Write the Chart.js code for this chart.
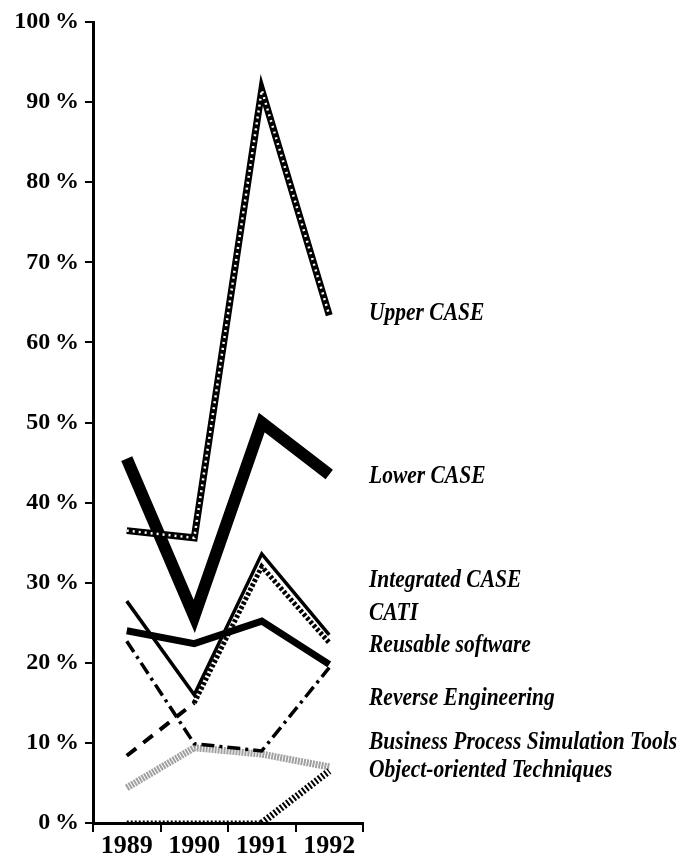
<!DOCTYPE html>
<html>
<head>
<meta charset="utf-8">
<script src="https://cdn.jsdelivr.net/npm/chart.js@4/dist/chart.umd.min.js"></script>
<style>
  html, body { margin: 0; padding: 0; background: #fff; }
  #wrap { width: 696px; height: 863px; }
</style>
</head>
<body>
<div id="wrap"><canvas id="line-chart" width="696" height="863"></canvas></div>
<script>
// years on the x axis
const years = ["1989", "1990", "1991", "1992"];

// survey shares, percent
const upperCase = [36.5, 35.6, 91.5, 63.4];
const lowerCase = [45.5, 25.8, 50.0, 43.5];
const integratedCase = [27.7, 16.0, 33.6, 23.5];
const cati = [8.4, 15.0, 32.0, 22.5];
const reusableSoftware = [24.0, 22.4, 25.2, 19.8];
const reverseEngineering = [22.7, 9.9, 9.0, 19.4];
const bpsTools = [4.4, 9.4, 8.6, 7.0];
const ooTechniques = [0, 0, 0, 6.5];

// names written at the right, and the value height they sit at
const seriesNames = ["Upper CASE", "Lower CASE", "Integrated CASE", "CATI",
  "Reusable software", "Reverse Engineering", "Business Process Simulation Tools",
  "Object-oriented Techniques"];
const nameAt = [63.6, 43.2, 30.2, 26.1, 22.1, 15.5, 10.0, 6.6];

const yTicks = [0, 10, 20, 30, 40, 50, 60, 70, 80, 90, 100];

/*==================== labels on the right ====================*/
const rightNames = {
  id: "rightNames",
  afterDraw(chart) {
    const ctx = chart.ctx;
    const y = chart.scales.y;
    ctx.save();
    ctx.fillStyle = "#000";
    ctx.font = 'italic bold 21.5px "Liberation Serif"';
    ctx.textBaseline = "middle";
    seriesNames.forEach((name, i) => {
      ctx.save();
      ctx.translate(chart.chartArea.right + 6, y.getPixelForValue(nameAt[i]));
      ctx.scale(1, 1.15);
      ctx.fillText(name, 0, 0);
      ctx.restore();
    });
    ctx.restore();
  }
};

// dash / width for the first n segments only
const firstPart = (val, n) => ctx => (ctx.p0DataIndex < n ? val : undefined);
const fromPart = (val, n) => ctx => (ctx.p0DataIndex >= n ? val : undefined);

new Chart(document.getElementById("line-chart"), {
  type: "line",
  data: {
    labels: years,
    datasets: [{
      label: "Upper CASE",
      data: upperCase,
      borderColor: "#000",
      borderWidth: 7,
      order: 2
    }, {
      label: "",
      data: upperCase,
      borderColor: "#fff",
      borderWidth: 2.5,
      borderDash: [2, 4],
      order: 1
    }, {
      label: "Lower CASE",
      data: lowerCase,
      borderColor: "#000",
      borderWidth: 12,
      order: 3
    }, {
      label: "Integrated CASE",
      data: integratedCase,
      borderColor: "#000",
      borderWidth: 3.5,
      order: 3
    }, {
      label: "CATI",
      data: cati,
      borderColor: "#000",
      borderWidth: 5,
      borderDash: [3, 2],
      segment: { borderDash: firstPart([12, 9], 1), borderWidth: firstPart(4, 1) },
      order: 4
    }, {
      label: "Reusable software",
      data: reusableSoftware,
      borderColor: "#000",
      borderWidth: 7,
      order: 3
    }, {
      label: "Reverse Engineering",
      data: reverseEngineering,
      borderColor: "#000",
      borderWidth: 3.5,
      borderDash: [13, 5, 3, 5],
      order: 4
    }, {
      label: "Business Process Simulation Tools",
      data: bpsTools,
      borderColor: "#a0a0a0",
      borderWidth: 7,
      borderDash: [2, 1],
      order: 5
    }, {
      label: "Object-oriented Techniques",
      data: ooTechniques,
      borderColor: "#000",
      borderWidth: 5,
      borderDash: [2, 2],
      segment: { borderWidth: fromPart(7, 2) },
      order: 4
    }]
  },
  options: {
    responsive: false,
    animation: false,
    layout: { padding: { top: 22, right: 333, left: 0, bottom: 0 } },
    elements: {
      point: { radius: 0, hoverRadius: 0 },
      line: { tension: 0, borderCapStyle: "butt", borderJoinStyle: "miter" }
    },
    plugins: {
      legend: { display: false },
      title: { display: false },
      tooltip: { enabled: false }
    },
    scales: {
      x: {
        offset: true,
        grid: {
          offset: true,
          drawOnChartArea: false,
          drawTicks: true,
          tickLength: 9,
          color: "#000",
          lineWidth: 2
        },
        border: { display: true, color: "#000", width: 3 },
        ticks: {
          color: "#000",
          padding: -1,
          font: { family: '"Liberation Serif"', size: 26, weight: "bold" }
        },
        afterFit(scale) { scale.height = 40; }
      },
      y: {
        min: 0,
        max: 100,
        afterBuildTicks(scale) { scale.ticks = yTicks.map(v => ({ value: v })); },
        grid: {
          drawOnChartArea: false,
          drawTicks: true,
          tickLength: 8,
          color: "#000",
          lineWidth: 2
        },
        border: { display: true, color: "#000", width: 3 },
        ticks: {
          color: "#000",
          padding: 6,
          font: { family: '"Liberation Serif"', size: 24, weight: "bold" },
          callback: v => v + "\u2009%"
        },
        afterFit(scale) { scale.width = 93; }
      }
    }
  },
  plugins: [rightNames]
});
</script>
</body>
</html>
